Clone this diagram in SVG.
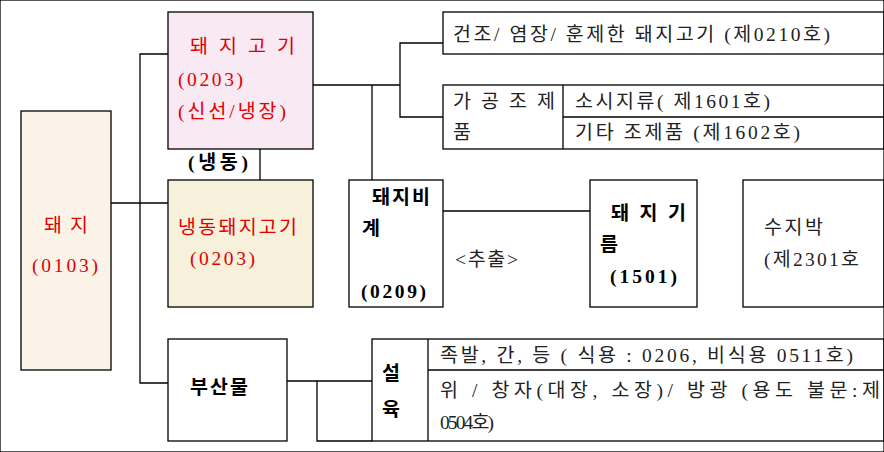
<svg xmlns="http://www.w3.org/2000/svg" width="884" height="452" viewBox="0 0 884 452">
<style>
rect,line,polyline{stroke:#000;stroke-width:1.3;fill:none}
text{font-family:"Liberation Serif","Noto Sans CJK KR",serif;font-size:19.5px;fill:#000}
.r{fill:#e00000}
.b{font-weight:bold}
.g{fill:#222}
</style>
<rect width="884" height="452" fill="#fff" stroke="none"/>
<g id="connectors">
<line x1="111" y1="203" x2="168" y2="203"/>
<polyline points="168,54 140,54 140,383 168,383"/>
<line x1="260" y1="149" x2="260" y2="180"/>
<line x1="313" y1="85" x2="400" y2="85"/>
<polyline points="443,43 400,43 400,117 443,117"/>
<line x1="372" y1="85" x2="372" y2="180"/>
<line x1="443" y1="211" x2="590" y2="211"/>
<line x1="287" y1="381" x2="372" y2="381"/>
<polyline points="317,381 317,441 372,441"/>
</g>
<g id="n-pig"><rect x="21" y="111" width="90" height="259" style="fill:#fbf3e8"/>
<text x="44" y="232" class="r" font-size="23" textLength="44">돼지</text><text x="32" y="272" class="r" textLength="66">(0103)</text></g>
<g id="n-pork"><rect x="168" y="12" width="145" height="137" style="fill:#f8e9f3"/>
<text x="190" y="53" class="r" textLength="105">돼지고기</text><text x="178" y="86" class="r" textLength="65">(0203)</text><text x="178" y="118" class="r" textLength="108">(신선/냉장)</text></g>
<text x="188" y="169" class="b" textLength="60">(냉동)</text>
<g id="n-frozen"><rect x="168" y="180" width="145" height="127" style="fill:#f7f0db"/>
<text x="178" y="234" class="r" textLength="119">냉동돼지고기</text><text x="190" y="265" class="r" textLength="65">(0203)</text></g>
<g id="n-dried"><rect x="443" y="12" width="441" height="42"/>
<text x="453" y="41" class="g" textLength="377">건조/ 염장/ 훈제한 돼지고기 (제0210호)</text></g>
<g id="n-processed"><rect x="443" y="85" width="441" height="64"/><line x1="563" y1="85" x2="563" y2="149"/><line x1="563" y1="117" x2="884" y2="117"/>
<text x="453" y="108" class="g" textLength="102">가공조제</text><text x="453" y="139" class="g">품</text>
<text x="575" y="108" class="g" textLength="195">소시지류( 제1601호)</text><text x="575" y="139" class="g" textLength="225">기타 조제품 (제1602호)</text></g>
<g id="n-fat"><rect x="349" y="180" width="94" height="127"/>
<text x="372" y="204" class="b" textLength="58">돼지비</text><text x="362" y="235" class="b">계</text><text x="361" y="298" class="b" textLength="65">(0209)</text></g>
<text x="455" y="266" class="g" textLength="63">&lt;추출&gt;</text>
<g id="n-lard"><rect x="590" y="180" width="107" height="127"/>
<text x="611" y="220" class="b" textLength="75">돼지기</text><text x="600" y="251" class="b">름</text><text x="610" y="283" class="b" textLength="67">(1501)</text></g>
<g id="n-residue"><rect x="743" y="180" width="141" height="127"/>
<text x="764" y="234" class="g" textLength="59">수지박</text><text x="764" y="266" class="g" textLength="95">(제2301호</text></g>
<g id="n-byproduct"><rect x="168" y="339" width="119" height="102"/>
<text x="190" y="394" class="b" textLength="58">부산물</text></g>
<g id="n-offal"><rect x="372" y="339" width="512" height="102"/><line x1="428" y1="339" x2="428" y2="441"/><line x1="428" y1="370" x2="884" y2="370"/>
<text x="382" y="380" class="b">설</text><text x="382" y="416" class="b">육</text>
<text x="440" y="362" class="g" textLength="413">족발, 간, 등 ( 식용 : 0206, 비식용 0511호)</text>
<text x="440" y="397" class="g" textLength="440">위 / 창자(대장, 소장)/ 방광 (용도 불문:제</text>
<text x="440" y="429" class="g" textLength="54">0504호)</text></g>
</svg>
